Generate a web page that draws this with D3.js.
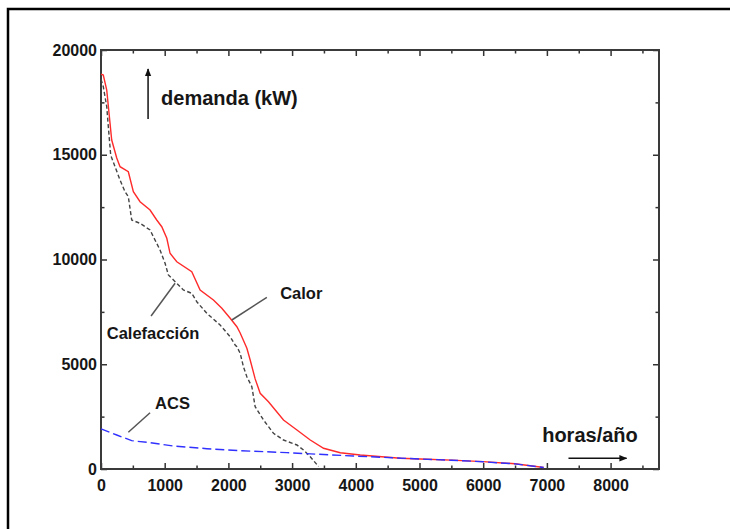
<!DOCTYPE html>
<html>
<head>
<meta charset="utf-8">
<script src="https://cdn.jsdelivr.net/npm/d3@7"></script>
<style>
  body { margin: 0; background: #fff; }
  text { font-family: "Liberation Sans", Arial, sans-serif; font-weight: bold; fill: #161616; }
</style>
</head>
<body>
<svg id="svg"></svg>
<script>
const svg = d3.select("#svg")
    .attr("width", 730)
    .attr("height", 529)

// Datos (horas/año, demanda kW)

const calorHoras = [0, 36, 90, 168, 247, 299, 429, 508, 613, 770, 875, 954, 1033, 1084, 1190, 1425, 1556, 1765, 1897, 2028, 2133, 2185, 2290, 2342, 2420, 2499, 2629, 2865, 3076, 3285, 3494, 3756, 4070, 4700, 5013, 5500, 6000, 6500, 6950]
const calorDemanda = [18850, 18806, 18090, 15703, 14844, 14429, 14190, 13236, 12758, 12362, 11885, 11565, 11011, 10296, 9894, 9417, 8544, 8066, 7670, 7193, 6792, 6491, 5761, 5202, 4300, 3613, 3212, 2339, 1861, 1384, 988, 778, 668, 515, 480, 425, 350, 250, 70]

const calefHoras = [0, 36, 90, 115, 152, 220, 299, 377, 429, 482, 613, 770, 822, 927, 1006, 1058, 1190, 1293, 1425, 1504, 1661, 1870, 2028, 2106, 2133, 2185, 2236, 2290, 2368, 2420, 2551, 2708, 2865, 3076, 3179, 3285, 3415]
const calefDemanda = [18600, 18247, 17292, 16338, 14986, 14429, 13793, 13236, 12997, 11885, 11727, 11408, 11088, 10453, 9818, 9260, 8864, 8544, 8386, 7985, 7432, 6873, 6315, 5919, 5837, 5522, 4883, 4405, 3928, 2974, 2339, 1703, 1384, 1146, 907, 587, 120]

const acsHoras = [0, 247, 482, 770, 1136, 1661, 2185, 2918, 3965, 5013, 5500, 6000, 6500, 6950]
const acsDemanda = [1920, 1623, 1352, 1257, 1098, 970, 875, 780, 620, 477, 420, 345, 245, 70]

const xTicks = [0, 1000, 2000, 3000, 4000, 5000, 6000, 7000, 8000]
const yTicks = [0, 5000, 10000, 15000, 20000]


// Escalas

const x = d3.scaleLinear()
    .domain([0, 8760])
    .range([101, 659])

const y = d3.scaleLinear()
    .domain([0, 20000])
    .range([469, 50])

// marco exterior
svg.append("rect")
    .attr("x", 8).attr("y", 9)
    .attr("width", 800).attr("height", 600)
    .attr("fill", "none")
    .attr("stroke", "#000")
    .attr("stroke-width", 2.5)


// Ejes (ticks hacia dentro, menores cada media división)

const fmt = d3.format("d")
const xMinor = d3.range(500, 8760, 1000)
const yMinor = d3.range(2500, 20000, 5000)

function drawAxis(axisFn, scale, ticks, minor, tx, ty, labels) {
    const g = svg.append("g").attr("transform", `translate(${tx},${ty})`)
    g.call(axisFn(scale).tickValues(ticks).tickSizeInner(-6).tickSizeOuter(0)
        .tickPadding(labels ? (axisFn === d3.axisBottom ? 11 : 4) : 0)
        .tickFormat(labels ? fmt : ""))
    g.append("g").call(axisFn(scale).tickValues(minor).tickSizeInner(-3.5).tickSizeOuter(0).tickFormat(""))
    g.selectAll(".domain").remove()
    g.selectAll("line").attr("stroke", "#333").attr("stroke-width", 1.5)
    g.selectAll("text").attr("font-size", 16).attr("fill", "#161616")
        .style("font-family", "'Liberation Sans', Arial, sans-serif").style("font-weight", "bold")
    return g
}

drawAxis(d3.axisBottom, x, xTicks, xMinor, 0, 469, true)
drawAxis(d3.axisTop, x, xTicks, xMinor, 0, 50, false)
drawAxis(d3.axisLeft, y, yTicks, yMinor, 101, 0, true)
drawAxis(d3.axisRight, y, yTicks, yMinor, 659, 0, false)

svg.append("rect")
    .attr("x", x(0)).attr("y", y(20000))
    .attr("width", x(8760) - x(0)).attr("height", y(0) - y(20000))
    .attr("fill", "none")
    .attr("stroke", "#3a3a3a")
    .attr("stroke-width", 2)


// Curvas monótonas

const line = d3.line()
    .x(d => x(d[0]))
    .y(d => y(d[1]))

const serie = (hs, vs) => hs.map((h, i) => [h, vs[i]])

svg.append("path")
    .datum(serie(calorHoras, calorDemanda))
    .attr("d", line)
    .attr("fill", "none")
    .attr("stroke", "#ff2a2a")
    .attr("stroke-width", 1.4)

svg.append("path")
    .datum(serie(calefHoras, calefDemanda))
    .attr("d", line)
    .attr("fill", "none")
    .attr("stroke", "#444")
    .attr("stroke-width", 1.4)
    .attr("stroke-dasharray", "4,2.5")

svg.append("path")
    .datum(serie(acsHoras, acsDemanda))
    .attr("d", line)
    .attr("fill", "none")
    .attr("stroke", "#3030ff")
    .attr("stroke-width", 1.4)
    .attr("stroke-dasharray", "9,4")


// Rótulos y flechas

svg.append("defs").append("marker")
    .attr("id", "head")
    .attr("viewBox", "0 0 10 10")
    .attr("refX", 9).attr("refY", 5)
    .attr("markerWidth", 8).attr("markerHeight", 8)
    .attr("markerUnits", "userSpaceOnUse")
    .attr("orient", "auto")
    .append("path")
    .attr("d", "M0,1 L10,5 L0,9 Z")
    .attr("fill", "#111")

const arrow = (h1, v1, h2, v2) => svg.append("line")
    .attr("x1", x(h1)).attr("y1", y(v1))
    .attr("x2", x(h2)).attr("y2", y(v2))
    .attr("stroke", "#111")
    .attr("stroke-width", 1.5)
    .attr("marker-end", "url(#head)")

const leader = (h1, v1, h2, v2) => svg.append("line")
    .attr("x1", x(h1)).attr("y1", y(v1))
    .attr("x2", x(h2)).attr("y2", y(v2))
    .attr("stroke", "#555")
    .attr("stroke-width", 1.5)

const label = (h, v, txt, size) => svg.append("text")
    .attr("x", x(h)).attr("y", y(v))
    .attr("font-size", size)
    .text(txt)

arrow(739, 16705, 739, 19092)
label(943, 17374, "demanda (kW)", 20)

arrow(7339, 511, 8251, 511)
label(6926, 1289, "horas/año", 20)

leader(2604, 8195, 2054, 7112)
label(2813, 8114, "Calor", 16.5)

leader(786, 7303, 1163, 8864)
label(90, 6205, "Calefacción", 16.5)

leader(770, 2687, 429, 1752)
label(849, 2864, "ACS", 16.5)
</script>
</body>
</html>
